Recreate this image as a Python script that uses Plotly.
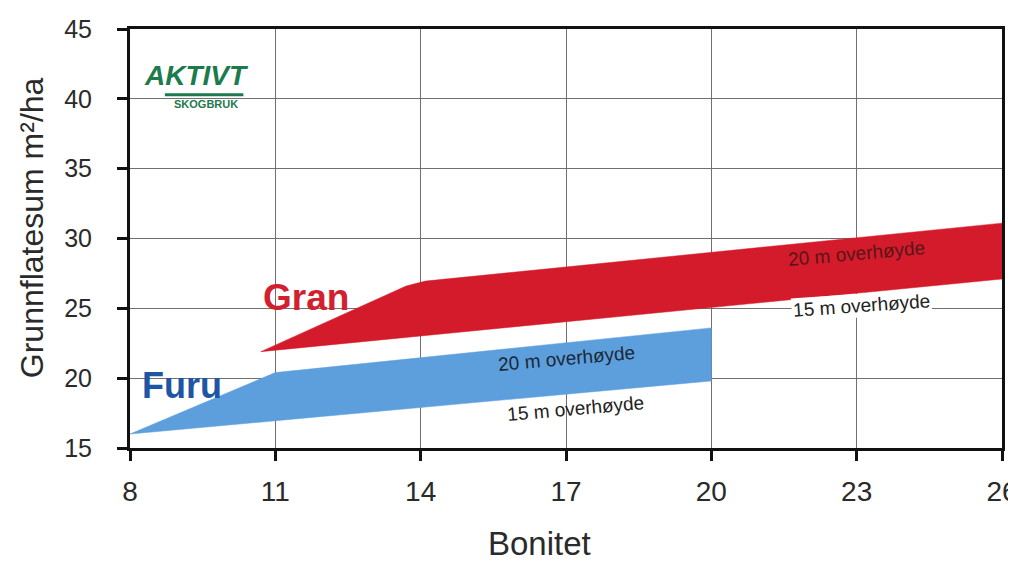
import plotly.graph_objects as go

# ---- data ----
x_ticks = [8, 11, 14, 17, 20, 23, 26]
y_ticks = [15, 20, 25, 30, 35, 40, 45]

gran_lower_x = [10.7, 26]
gran_lower_y = [21.9, 27.1]
gran_upper_x = [10.7, 13.7, 14.1, 14.6, 26]
gran_upper_y = [21.9, 26.6, 26.95, 27.15, 31.1]

furu_lower_x = [8, 20]
furu_lower_y = [16.0, 19.8]
furu_upper_x = [8, 11, 20]
furu_upper_y = [16.0, 20.4, 23.6]

RED = "#d41b2b"
BLUE = "#5d9fdc"
GREEN = "#1d7a4c"
FONT = "Liberation Sans, Arial, sans-serif"

def band(lx, ly, ux, uy, color, name):
    xs = list(lx) + list(reversed(ux))
    ys = list(ly) + list(reversed(uy))
    return go.Scatter(x=xs, y=ys, fill="toself", fillcolor=color, mode="lines",
                      line=dict(color=color, width=0.5), name=name,
                      showlegend=False, hoverinfo="skip")

fig = go.Figure()
fig.add_trace(band(gran_lower_x, gran_lower_y, gran_upper_x, gran_upper_y, RED, "Gran"))
fig.add_trace(band(furu_lower_x, furu_lower_y, furu_upper_x, furu_upper_y, BLUE, "Furu"))

C = dict(xanchor="center", yanchor="middle", showarrow=False)
ann = []
ann.append(dict(x=11.64, y=25.8, text="<b>Gran</b>",
                font=dict(family=FONT, size=37, color="#d3202e"), **C))
ann.append(dict(x=9.07, y=19.5, text="<b>Furu</b>",
                font=dict(family=FONT, size=36, color="#1f56a3"), **C))
ann.append(dict(x=23.0, y=28.9, text="20 m overhøyde", textangle=-5,
                font=dict(family=FONT, size=19, color="#5a1518"), **C))
ann.append(dict(x=23.1, y=25.2, text="15 m overhøyde", textangle=-4,
                bgcolor="white", font=dict(family=FONT, size=19, color="#222222"), **C))
ann.append(dict(x=17.0, y=21.4, text="20 m overhøyde", textangle=-5,
                font=dict(family=FONT, size=19, color="#1b2838"), **C))
ann.append(dict(x=17.2, y=17.86, text="15 m overhøyde", textangle=-5,
                font=dict(family=FONT, size=19, color="#222222"), **C))
# logo
ann.append(dict(xref="paper", yref="paper", x=0.0768, y=0.888, text="<b><i>AKTIVT</i></b>",
                font=dict(family=FONT, size=28, color=GREEN), **C))
ann.append(dict(xref="paper", yref="paper", x=0.0872, y=0.821, text="<b>SKOGBRUK</b>",
                font=dict(family=FONT, size=11, color=GREEN), **C))
# axis titles
ann.append(dict(xref="paper", yref="paper", x=-0.1124, y=0.527, text="Grunnflatesum m²/ha",
                textangle=-90, font=dict(family=FONT, size=32, color="#2a2a2a"), **C))
ann.append(dict(xref="paper", yref="paper", x=0.470, y=-0.228, text="Bonitet",
                font=dict(family=FONT, size=33, color="#2a2a2a"), **C))

shapes = [dict(type="line", xref="paper", yref="paper", x0=0.040, x1=0.130, y0=0.843, y1=0.843,
               line=dict(color=GREEN, width=3))]

axis_common = dict(showline=True, linecolor="#111111", linewidth=3, mirror=True,
                   showgrid=True, gridcolor="#707070", gridwidth=1.2, zeroline=False,
                   ticks="outside", ticklen=10, tickwidth=2.5, tickcolor="#111111",
                   ticklabeloverflow="allow", automargin=False)

fig.update_layout(
    width=1008, height=555,
    margin=dict(l=122, r=14, t=21, b=115, autoexpand=False),
    paper_bgcolor="white", plot_bgcolor="white",
    xaxis=dict(range=[8, 26], tickvals=x_ticks, ticktext=[str(v) for v in x_ticks],
               tickfont=dict(family=FONT, size=28, color="#2a2a2a"), ticklabelstandoff=6,
               **axis_common),
    yaxis=dict(range=[15, 45], tickvals=y_ticks, ticktext=[str(v) for v in y_ticks],
               tickfont=dict(family=FONT, size=25, color="#2a2a2a"), ticklabelstandoff=20,
               **axis_common),
    annotations=ann, shapes=shapes, showlegend=False,
)

fig.write_html("out.html")
